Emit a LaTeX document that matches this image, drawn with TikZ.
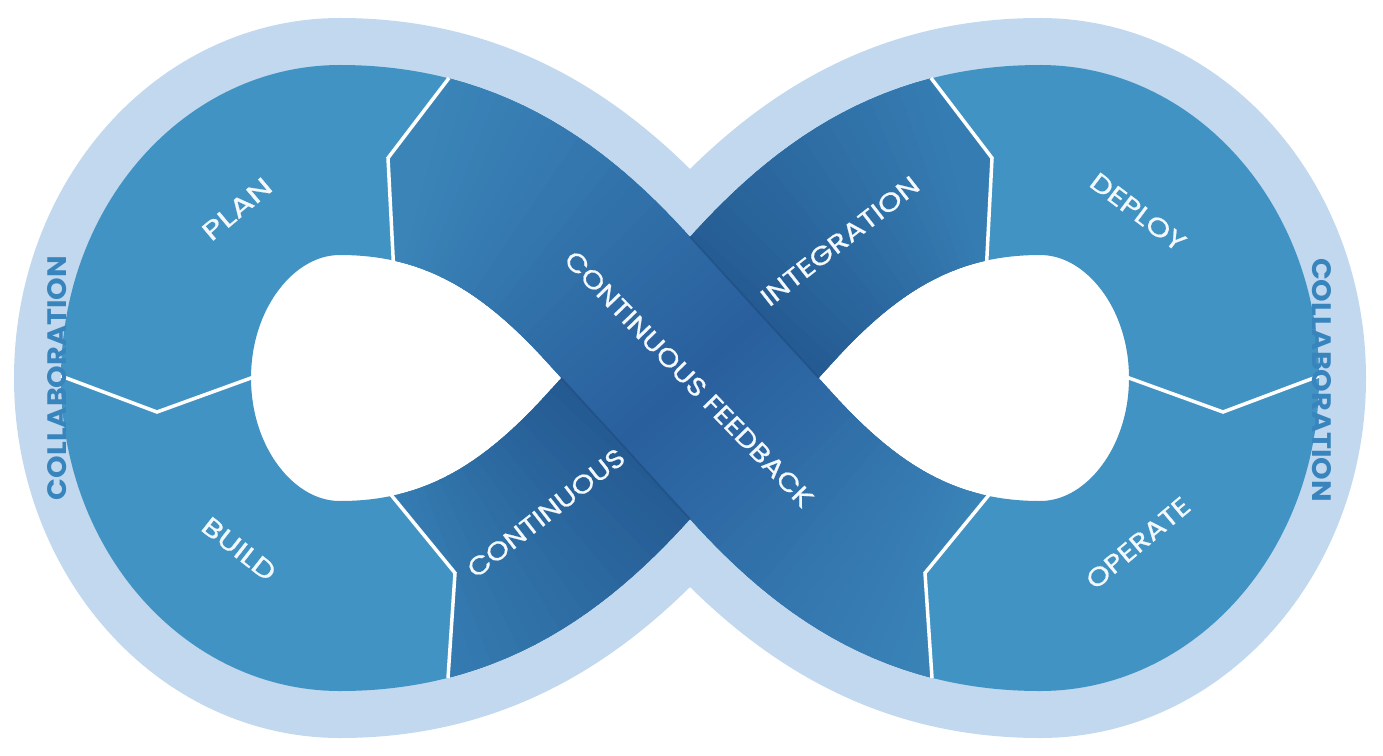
\documentclass[tikz,border=0pt]{standalone}
\usepackage{fontspec}
\setmainfont{Poppins}
\newfontfamily\lblfont[FakeBold=0.7]{Poppins}
\newfontfamily\colfont{Poppins}
\usepackage{graphicx}
\definecolor{lightb}{RGB}{193,216,238}
\definecolor{lobe}{RGB}{65,147,195}
\definecolor{fbend}{RGB}{58,132,184}
\definecolor{fbdark}{RGB}{41,95,157}
\definecolor{inend}{RGB}{53,124,178}
\definecolor{indark}{RGB}{30,78,134}
\definecolor{txt}{RGB}{242,248,252}
\definecolor{coltxt}{RGB}{56,132,189}
\definecolor{seam}{RGB}{24,64,112}
\def\fullpath{(690,378) -- (615.86,296.71) .. controls (541.72,215.42) and (460,160) .. (340,160) .. controls (238.4,160) and (156,257.6) .. (156,378) .. controls (156,498.4) and (238.4,596) .. (340,596) .. controls (460,596) and (541.72,540.58) .. (615.86,459.29) -- (690,378) -- (764.14,296.71) .. controls (838.28,215.42) and (920,160) .. (1040,160) .. controls (1141.6,160) and (1224,257.6) .. (1224,378) .. controls (1224,498.4) and (1141.6,596) .. (1040,596) .. controls (920,596) and (838.28,540.58) .. (764.14,459.29) -- cycle}
\def\fbpath{(1040,596) .. controls (920,596) and (838.28,540.58) .. (764.14,459.29) -- (615.86,296.71) .. controls (541.72,215.42) and (460,160) .. (340,160)}
\def\inpath{(340,596) .. controls (460,596) and (541.72,540.58) .. (615.86,459.29) -- (764.14,296.71) .. controls (838.28,215.42) and (920,160) .. (1040,160)}
\begin{document}
\begin{tikzpicture}[x=1pt,y=-1pt,
  divider/.style={draw=white,line width=3.5pt,line join=miter},
  lbl/.style={text=txt,inner sep=0pt,font=\lblfont},
  collab/.style={text=coltxt,inner sep=0pt,font=\colfont\bfseries},
  bandstroke/.style={line width=190pt},
  seamline/.style={draw=seam,line width=1.6pt,opacity=0.45}]
\useasboundingbox (0,0) rectangle (1383,755);
% chevron coordinates
\coordinate (tlO) at (449,78);  \coordinate (tlM) at (388,158); \coordinate (tlI) at (394,275);
\coordinate (trO) at (931,78);  \coordinate (trM) at (992,158); \coordinate (trI) at (986,275);
\coordinate (blI) at (383,485); \coordinate (blM) at (455,573); \coordinate (blO) at (448,678);
\coordinate (brI) at (997,485); \coordinate (brM) at (925,573); \coordinate (brO) at (932,678);
\coordinate (lO) at (61,376);   \coordinate (lM) at (157,412);  \coordinate (lI) at (262,374);
\coordinate (rO) at (1319,376); \coordinate (rM) at (1223,412); \coordinate (rI) at (1118,374);
\coordinate (tipL) at (561.4,378); \coordinate (vB) at (690,519);
\coordinate (vT) at (690,237);     \coordinate (tipR) at (818.6,378);
% base figure
\draw[lightb,line width=284pt] \fullpath;
\fill[white] \fullpath;
\draw[lobe,bandstroke] \fullpath;
% integration band (under)
\begin{scope}
 \clip (365,463) -- (blI) -- (blM) -- (blO) -- (444,760) -- (700,780) -- (985,300) -- (trI) -- (trM) -- (trO) -- (900,37) -- (690,-20) -- cycle;
 \draw[inend,bandstroke] \inpath;
 \foreach \i in {0,...,57}{
   \pgfmathsetmacro\sA{84+\i*12}
   \pgfmathsetmacro\wA{min(100,abs(\sA+7-428.5)/345*100)}
   \pgfmathsetmacro\pA{4014-\sA}
   \draw[color=inend!\wA!indark,bandstroke,dash pattern=on 14pt off 4000pt,dash phase=\pA pt] \inpath;
 }
\end{scope}
% feedback band (over)
\begin{scope}
 \clip (480,37) -- (tlO) -- (tlM) -- (tlI) -- (395,300) -- (560,760) -- (936,760) -- (brO) -- (brM) -- (brI) -- (1015,463) -- (700,-20) -- cycle;
 \draw[fbend,bandstroke] \fbpath;
 \foreach \i in {0,...,57}{
   \pgfmathsetmacro\sA{84+\i*12}
   \pgfmathsetmacro\wA{min(100,abs(\sA+7-428.5)/345*100)}
   \pgfmathsetmacro\pA{4014-\sA}
   \draw[color=fbend!\wA!fbdark,bandstroke,dash pattern=on 14pt off 4000pt,dash phase=\pA pt] \fbpath;
 }
\end{scope}
\draw[seamline] (tipL) -- (vB);
\draw[seamline] (vT) -- (tipR);
% dividers
\draw[divider] (lO) -- (lM) -- (lI);
\draw[divider] (rO) -- (rM) -- (rI);
\draw[divider] (tlO) -- (tlM) -- (tlI);
\draw[divider] (trO) -- (trM) -- (trI);
\draw[divider] (blI) -- (blM) -- (blO);
\draw[divider] (brI) -- (brM) -- (brO);
% labels
\node[lbl,rotate=-46] (cf) at (689,379) {\resizebox{345pt}{18pt}{CONTINUOUS FEEDBACK}};
\node[lbl,rotate=38] (integ) at (840,241) {\resizebox{193pt}{18pt}{INTEGRATION}};
\node[lbl,rotate=38] (cont) at (546,513) {\resizebox{192pt}{18pt}{CONTINUOUS}};
\node[lbl,rotate=40] (plan) at (237,209) {\resizebox{82pt}{18pt}{PLAN}};
\node[lbl,rotate=-38] (build) at (239,549) {\resizebox{86pt}{18pt}{BUILD}};
\node[lbl,rotate=-37] (deploy) at (1138,212) {\resizebox{112pt}{18pt}{DEPLOY}};
\node[lbl,rotate=40] (operate) at (1138,543) {\resizebox{127pt}{18pt}{OPERATE}};
\node[collab,rotate=90] (colL) at (57,378) {\resizebox{244pt}{19pt}{COLLABORATION}};
\node[collab,rotate=-90] (colR) at (1322,380) {\resizebox{244pt}{19pt}{COLLABORATION}};
\end{tikzpicture}
\end{document}
